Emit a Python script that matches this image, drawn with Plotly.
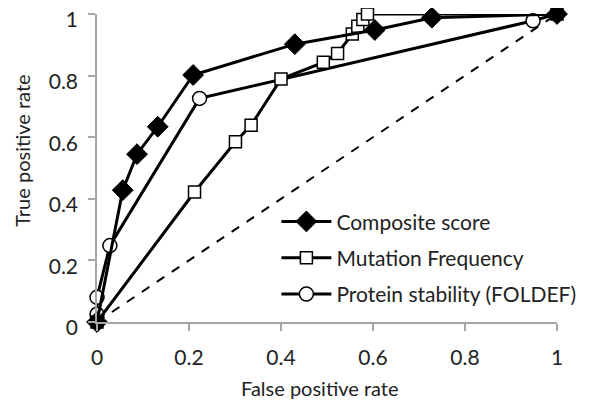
import plotly.graph_objects as go

composite_x = [0, 0.056, 0.087, 0.132, 0.209, 0.43, 0.604, 0.728, 1.0]
composite_y = [0, 0.428, 0.545, 0.634, 0.802, 0.902, 0.948, 0.988, 1.0]

mutation_x = [0, 0.212, 0.301, 0.335, 0.40, 0.492, 0.523, 0.555, 0.567, 0.578, 0.588, 1.0]
mutation_y = [0, 0.422, 0.585, 0.639, 0.789, 0.843, 0.872, 0.935, 0.96, 0.982, 1.0, 1.0]

stability_x = [0, 0, 0.028, 0.223, 0.948, 1.0]
stability_y = [0.025, 0.08, 0.248, 0.726, 0.978, 1.0]

diag_x = [0, 1]
diag_y = [0, 1]

tick_vals = [0, 0.2, 0.4, 0.6, 0.8, 1]
tick_text = ["0", "0.2", "0.4", "0.6", "0.8", "1"]

FONT = "Lato"
TXT = "#222222"
fig = go.Figure()

fig.add_trace(go.Scatter(x=diag_x, y=diag_y, mode="lines", showlegend=False,
                         line=dict(color="black", width=2, dash="dash"), cliponaxis=False))

fig.add_trace(go.Scatter(x=stability_x, y=stability_y, mode="lines+markers",
                         name="Protein stability (FOLDEF)", legendgroup="c", legendrank=3,
                         line=dict(color="black", width=3),
                         marker=dict(symbol="circle", size=14, color="white",
                                     line=dict(color="black", width=1.5)),
                         cliponaxis=False))

fig.add_trace(go.Scatter(x=mutation_x, y=mutation_y, mode="lines+markers",
                         name="Mutation Frequency", legendgroup="b", legendrank=2,
                         line=dict(color="black", width=3),
                         marker=dict(symbol="square", size=12, color="white",
                                     line=dict(color="black", width=1.5)),
                         cliponaxis=False))

fig.add_trace(go.Scatter(x=composite_x, y=composite_y, mode="lines+markers",
                         name="Composite score", legendgroup="a", legendrank=1,
                         line=dict(color="black", width=3),
                         marker=dict(symbol="diamond", size=16, color="black",
                                     line=dict(color="black", width=1)),
                         cliponaxis=False))

axis_common = dict(
    range=[0, 1], tickvals=tick_vals, ticktext=tick_text, automargin=False,
    showgrid=False, zeroline=False, showline=True, linecolor="#A6A6A6", linewidth=1.5,
    ticks="outside", ticklen=7, tickwidth=1.5, tickcolor="#A6A6A6",
    tickfont=dict(family=FONT, size=21, color=TXT), ticklabeloverflow="allow",
)

fig.update_xaxes(**axis_common, ticklabelstandoff=9)
fig.update_yaxes(**axis_common, ticklabelstandoff=6, ticklabelshift=6)

fig.add_annotation(text="False positive rate", xref="paper", yref="paper",
                   x=0.485, y=-0.215, xanchor="center", yanchor="middle", showarrow=False,
                   font=dict(family=FONT, size=20, color=TXT))
fig.add_annotation(text="True positive rate", xref="paper", yref="paper", textangle=-90,
                   x=-0.163, y=0.556, xanchor="center", yanchor="middle", showarrow=False,
                   font=dict(family=FONT, size=20, color=TXT))

# the page body has an 8px margin, so the figure is offset by (8, 8)
fig.update_layout(
    width=581, height=398,
    margin=dict(l=89, r=32, t=6, b=84),
    plot_bgcolor="white", paper_bgcolor="white",
    legend=dict(x=0.39, y=0.392, xanchor="left", yanchor="top",
                bgcolor="rgba(0,0,0,0)", tracegroupgap=6, itemwidth=50,
                font=dict(family=FONT, size=21, color=TXT), traceorder="grouped"),
)

fig.write_html("out.html")
